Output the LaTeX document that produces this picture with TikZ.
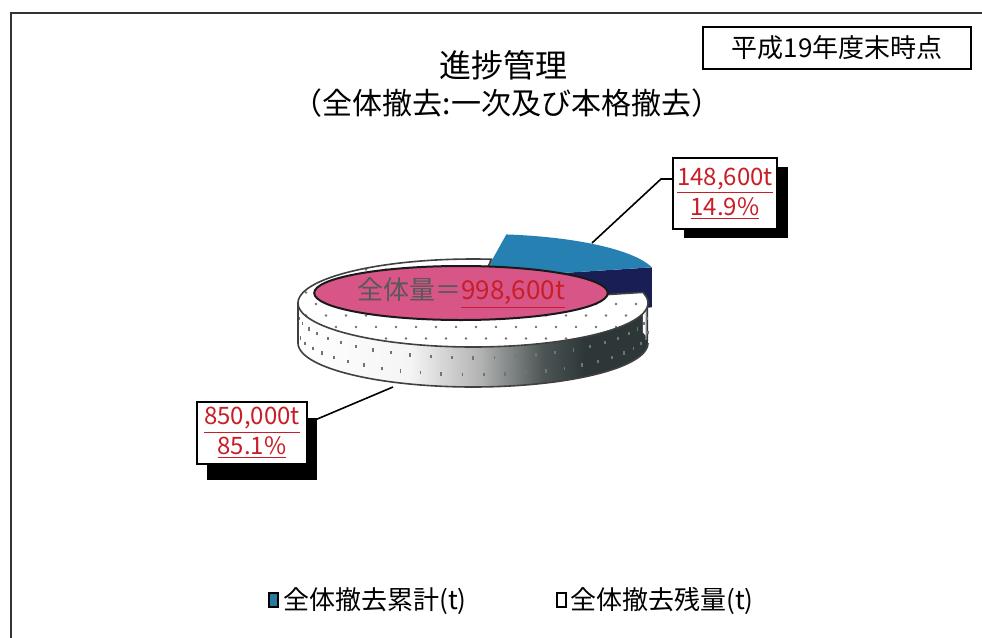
\documentclass[tikz,border=0pt]{standalone}
\usepackage{fontspec}
\setmainfont{Noto Sans CJK JP}
\usetikzlibrary{shapes.geometric,shadows}
\definecolor{bluetop}{RGB}{38,128,178}
\definecolor{navyside}{RGB}{25,30,85}
\definecolor{pinkc}{RGB}{215,85,135}
\definecolor{redtxt}{RGB}{200,30,40}
\definecolor{darkside}{RGB}{45,55,55}
\definecolor{legteal}{RGB}{40,120,160}
\pgfdeclarehorizontalshading{pieside}{100bp}{color(0bp)=(white); color(25bp)=(white); color(41bp)=(white!96!black); color(51bp)=(black!30); color(60bp)=(darkside!85!white); color(66bp)=(darkside); color(100bp)=(darkside)}
\def\PCX{473}\def\PCY{303}\def\PRX{175}\def\PRY{44}\def\PHH{40}
\def\BAX{482}\def\BAY{278}
\def\GA{14}\def\GB{84}
\begin{document}
\begin{tikzpicture}[x=0.5pt,y=-0.5pt,
  lbl/.style={draw=black,line width=0.8pt,fill=white,align=center,inner sep=0pt,
     font={\fontsize{12}{15}\selectfont},text=redtxt},
  leader/.style={draw=black,line width=0.8pt},
  legsq/.style={draw=black,line width=0.6pt,minimum width=4.5pt,minimum height=7pt,inner sep=0pt},
  legtxt/.style={anchor=west,inner sep=0pt,font={\fontsize{13}{15}\selectfont}},
  dotc/.style={fill=black!55}]
\useasboundingbox (0,0) rectangle (982,638);
\fill[white] (0,0) rectangle (982,638);
% frame
\draw[black!80,line width=1.3pt] (11,640) -- (11,13) -- (984,13);
% blue exploded slice
\fill[navyside] (\BAX,\BAY) -- ({\BAX+\PRX*cos(\GA)},{\BAY-\PRY*sin(\GA)}) -- ({\BAX+\PRX*cos(\GA)},{\BAY-\PRY*sin(\GA)+\PHH}) -- (\BAX,{\BAY+\PHH}) -- cycle;
\fill[bluetop] (\BAX,\BAY) -- plot[domain=\GA:82,samples=30] ({\BAX+\PRX*cos(\x)},{\BAY-\PRY*sin(\x)}) -- cycle;
% white slice: radial face at 84
\fill[black!55] (\PCX,\PCY) -- ({\PCX+\PRX*cos(\GB)},{\PCY-\PRY*sin(\GB)}) -- ({\PCX+\PRX*cos(\GB)},{\PCY-\PRY*sin(\GB)+\PHH}) -- (\PCX,{\PCY+\PHH}) -- cycle;
% front side
\shade[shading=pieside] plot[domain=180:360,samples=90] ({\PCX+\PRX*cos(\x)},{\PCY-\PRY*sin(\x)}) -- plot[domain=360:180,samples=90] ({\PCX+\PRX*cos(\x)},{\PCY+\PHH-\PRY*sin(\x)}) -- cycle;
\shade[shading=pieside] plot[domain=0:\GA,samples=20] ({\PCX+\PRX*cos(\x)},{\PCY-\PRY*sin(\x)}) -- plot[domain=\GA:0,samples=20] ({\PCX+\PRX*cos(\x)},{\PCY+\PHH-\PRY*sin(\x)}) -- cycle;
\foreach \t in {186,193,...,354} {
  \fill[dotc] ({\PCX+\PRX*cos(\t)-0.8},{\PCY-\PRY*sin(\t)+9}) rectangle ++(1.8,3.5);
  \fill[dotc] ({\PCX+\PRX*cos(\t+3.5)-0.8},{\PCY-\PRY*sin(\t+3.5)+26}) rectangle ++(1.8,3.5);
}
\draw[black!75,line width=0.8pt] plot[domain=180:360,samples=90] ({\PCX+\PRX*cos(\x)},{\PCY+\PHH-\PRY*sin(\x)});
\draw[black!75,line width=0.8pt] ({\PCX-\PRX},\PCY) -- ({\PCX-\PRX},{\PCY+\PHH});
% top face
\fill[white] (\PCX,\PCY) -- plot[domain=\GB:374,samples=150] ({\PCX+\PRX*cos(\x)},{\PCY-\PRY*sin(\x)}) -- cycle;
\begin{scope}
\clip (\PCX,\PCY) -- plot[domain=\GB:374,samples=150] ({\PCX+\PRX*cos(\x)},{\PCY-\PRY*sin(\x)}) -- cycle;
\foreach \r in {0,...,8} {
  \pgfmathsetmacro{\yy}{258+\r*11.5}
  \pgfmathsetmacro{\off}{mod(\r,2)*10}
  \foreach \c in {0,...,18} {
    \fill[dotc] ({296+\off+\c*20},\yy) circle (1.3);
  }
}
\end{scope}
\draw[black!75,line width=0.8pt] (\PCX,\PCY) -- plot[domain=\GB:374,samples=150] ({\PCX+\PRX*cos(\x)},{\PCY-\PRY*sin(\x)}) -- cycle;
% centre label
\node[ellipse,draw=black!90,line width=1pt,fill=pinkc,minimum width=141pt,minimum height=27pt,inner sep=0pt,
  font={\fontsize{13}{15}\selectfont}] (total) at (461,293)
  {\textcolor{black!65}{全体量＝}\textcolor{redtxt}{\underline{998,600t}}};
% data labels
\node[lbl,minimum width=52pt,minimum height=35.5pt,
  general shadow={fill=black,shadow xshift=5.5pt,shadow yshift=-4.5pt}] (lbA) at (725,193.5)
  {\underline{148,600t}\\\underline{14.9\%}};
\node[lbl,minimum width=55pt,minimum height=31pt,
  general shadow={fill=black,shadow xshift=5pt,shadow yshift=-8pt}] (lbB) at (252,433)
  {\underline{850,000t}\\\underline{85.1\%}};
\coordinate (kA) at (661,179);
\coordinate (pA) at (592,243);
\coordinate (pB) at (393,387);
\draw[leader] ([yshift=7.25pt]lbA.west) -- (kA) -- (pA);
\draw[leader] ([yshift=5pt]lbB.east) -- (pB);
% titles
\node[inner sep=0pt,font={\fontsize{16}{18}\selectfont}] (title) at (503,65) {進捗管理};
\node[inner sep=0pt,font={\fontsize{15}{18}\selectfont}] (sub) at (507,103) {（全体撤去:一次及び本格撤去）};
\node[draw=black,line width=1.2pt,minimum width=134pt,minimum height=21pt,inner sep=0pt,
  font={\fontsize{13}{15}\selectfont}] (badge) at (837,48) {平成19年度末時点};
% legend
\node[legsq,fill=legteal] (sq1) at (273.5,600) {};
\node[legtxt] (lt1) at (283,601) {全体撤去累計(t)};
\node[legsq,fill=white] (sq2) at (561.5,600) {};
\node[legtxt] (lt2) at (570,601) {全体撤去残量(t)};
\end{tikzpicture}
\end{document}
